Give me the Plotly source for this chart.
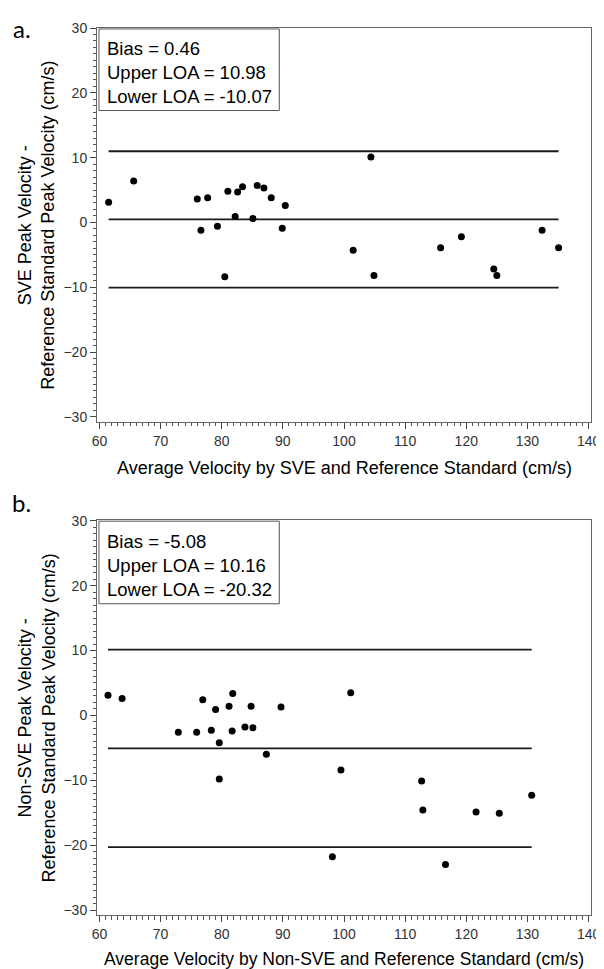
import plotly.graph_objects as go

# ---------------- data ----------------
avg_a = [61.5, 65.6, 76.0, 76.6, 77.7, 79.3, 80.5, 81.0, 82.2, 82.6, 83.4, 85.1, 85.8,
         86.9, 88.1, 89.9, 90.4, 104.4, 101.5, 104.9, 115.8, 119.2, 124.5, 125.0, 132.4, 135.1]
diff_a = [3.1, 6.4, 3.6, -1.2, 3.8, -0.6, -8.4, 4.8, 0.9, 4.7, 5.5, 0.6, 5.7,
          5.3, 3.8, -0.9, 2.6, 10.1, -4.3, -8.2, -3.9, -2.2, -7.2, -8.2, -1.2, -3.9]
bias_a, upper_a, lower_a = 0.46, 10.98, -10.07

avg_b = [61.4, 63.7, 72.9, 75.9, 76.9, 78.3, 79.0, 79.6, 79.6, 81.2, 81.7, 81.8, 83.8,
         84.8, 85.1, 87.3, 89.7, 99.5, 101.1, 112.7, 112.9, 121.6, 125.4, 130.7, 98.1, 116.6]
diff_b = [3.1, 2.6, -2.6, -2.6, 2.4, -2.3, 0.9, -4.2, -9.8, 1.4, -2.4, 3.4, -1.8,
          1.4, -1.9, -6.0, 1.3, -8.4, 3.5, -10.1, -14.6, -14.9, -15.1, -12.3, -21.8, -23.0]
bias_b, upper_b, lower_b = -5.08, 10.16, -20.32

x_ticks = [60, 70, 80, 90, 100, 110, 120, 130, 140]
y_ticks = [-30, -20, -10, 0, 10, 20, 30]

xtitle_a = "Average Velocity by SVE and Reference Standard (cm/s)"
xtitle_b = "Average Velocity by Non-SVE and Reference Standard (cm/s)"
ytitle_a = "SVE Peak Velocity -<br>Reference Standard Peak Velocity (cm/s)"
ytitle_b = "Non-SVE Peak Velocity -<br>Reference Standard Peak Velocity (cm/s)"
box_a = "Bias = 0.46<br>Upper LOA = 10.98<br>Lower LOA = -10.07"
box_b = "Bias = -5.08<br>Upper LOA = 10.16<br>Lower LOA = -20.32"

FONT = "Liberation Sans, Arial, sans-serif"

fig = go.Figure()

def add_panel(avg, diff, lines, xa, ya):
    x0, x1 = min(avg), max(avg)
    for v in lines:
        fig.add_trace(go.Scatter(x=[x0, x1], y=[v, v], mode="lines",
                                 line=dict(color="#1a1a1a", width=1.8),
                                 xaxis=xa, yaxis=ya, hoverinfo="skip"))
    fig.add_trace(go.Scatter(x=avg, y=diff, mode="markers",
                             marker=dict(color="black", size=7),
                             xaxis=xa, yaxis=ya))

add_panel(avg_a, diff_a, [upper_a, bias_a, lower_a], "x", "y")
add_panel(avg_b, diff_b, [upper_b, bias_b, lower_b], "x2", "y2")

def xaxis_cfg(anchor):
    return dict(anchor=anchor, domain=[0, 1], range=[59.6, 140.4],
                tickvals=x_ticks, ticks="outside", ticklen=6, tickcolor="#444",
                tickfont=dict(family=FONT, size=14, color="#333"),
                showline=True, linecolor="#666", linewidth=1, mirror=True,
                showgrid=False, zeroline=False,
                minor=dict(dtick=1, tick0=60, ticks="outside", ticklen=3.5,
                           tickcolor="#555", showgrid=False))

def yaxis_cfg(anchor, domain, rng):
    return dict(anchor=anchor, domain=domain, range=rng,
                tickvals=y_ticks, ticks="outside", ticklen=6, tickcolor="#444",
                tickfont=dict(family=FONT, size=14, color="#333"),
                showline=True, linecolor="#666", linewidth=1, mirror=True,
                showgrid=False, zeroline=False,
                minor=dict(dtick=1, tick0=0, ticks="outside", ticklen=3.5,
                           tickcolor="#555", showgrid=False))

fig.update_layout(
    width=604, height=969,
    margin=dict(l=89, r=14, t=15, b=62),
    paper_bgcolor="white", plot_bgcolor="white",
    showlegend=False,
    xaxis=xaxis_cfg("y"),
    yaxis=yaxis_cfg("x", [0.5561, 1.0], [-30.76, 30.0]),
    xaxis2=xaxis_cfg("y2"),
    yaxis2=yaxis_cfg("x2", [0.0, 0.4451], [-30.77, 30.1]),
)

# Text boxes (frames)
fig.add_shape(type="rect", xref="paper", yref="paper",
              x0=0.004, x1=0.369, y0=0.907, y1=0.9989,
              line=dict(color="#555", width=1), fillcolor="white")
fig.add_shape(type="rect", xref="paper", yref="paper",
              x0=0.004, x1=0.369, y0=0.3509, y1=0.4440,
              line=dict(color="#555", width=1), fillcolor="white")

ann = []
ann.append(dict(text=box_a, xref="paper", yref="paper", x=0.016, y=0.9905,
                xanchor="left", yanchor="top", align="left", showarrow=False,
                font=dict(family=FONT, size=18.5, color="black")))
ann.append(dict(text=box_b, xref="paper", yref="paper", x=0.016, y=0.4355,
                xanchor="left", yanchor="top", align="left", showarrow=False,
                font=dict(family=FONT, size=18.5, color="black")))
# panel labels
ann.append(dict(text="a.", xref="paper", yref="paper", x=-0.152, y=1.0,
                xanchor="center", yanchor="middle", showarrow=False,
                font=dict(family="Lato, Open Sans, sans-serif", size=24, color="black")))
ann.append(dict(text="b.", xref="paper", yref="paper", x=-0.152, y=(907 - 492) / 892,
                xanchor="center", yanchor="middle", showarrow=False,
                font=dict(family="Lato, Open Sans, sans-serif", size=24, color="black")))
# x titles
ann.append(dict(text=xtitle_a, xref="paper", yref="paper", x=0.5, y=(907 - 457) / 892,
                xanchor="center", yanchor="middle", showarrow=False,
                font=dict(family=FONT, size=18, color="black")))
ann.append(dict(text=xtitle_b, xref="paper", yref="paper", x=0.5, y=(907 - 951) / 892,
                xanchor="center", yanchor="middle", showarrow=False,
                font=dict(family=FONT, size=17.5, color="black")))
# y titles
ann.append(dict(text=ytitle_a, xref="paper", yref="paper", x=(28 - 89) / 501, y=(907 - 213) / 892,
                xanchor="center", yanchor="middle", showarrow=False, textangle=-90,
                font=dict(family=FONT, size=18, color="black")))
ann.append(dict(text=ytitle_b, xref="paper", yref="paper", x=(28 - 89) / 501, y=(907 - 708.5) / 892,
                xanchor="center", yanchor="middle", showarrow=False, textangle=-90,
                font=dict(family=FONT, size=18, color="black")))
fig.update_layout(annotations=ann)

fig.write_html("out.html")
